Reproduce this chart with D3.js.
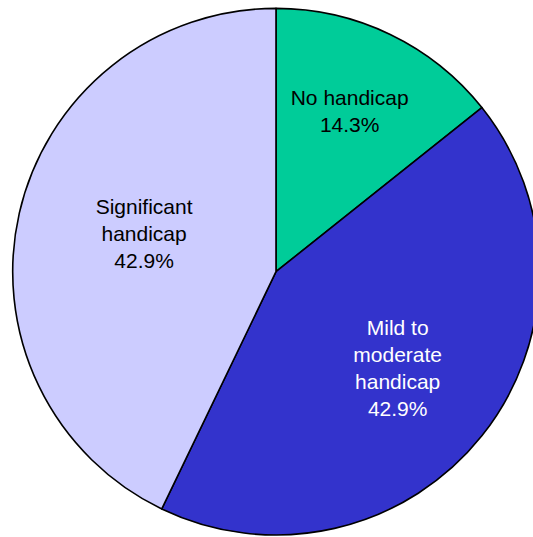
<!DOCTYPE html>
<html>
<head>
<meta charset="utf-8">
<script src="https://cdn.jsdelivr.net/npm/d3@7/dist/d3.min.js"></script>
<style>
  html, body { margin: 0; padding: 0; background: #fff; }
  svg { display: block; }
  text { font-family: "Liberation Sans", Arial, sans-serif; font-size: 21px; }
</style>
</head>
<body>
<svg id="chart" width="533" height="537"></svg>
<script>
// Handicap distribution (percent of patients)
const categories = ["No handicap", "Mild to moderate handicap", "Significant handicap"];
const labelLines = [["No handicap"], ["Mild to", "moderate", "handicap"], ["Significant", "handicap"]];
const values = [14.3, 42.9, 42.9];
const colors = ["#00CC99", "#3333CC", "#CCCCFF"];
const textColors = ["#000", "#fff", "#000"];
// where each label block sits: share of the slice's sweep, share of the radius
const labelAngle = [0.48, 0.50, 0.52];
const labelRadius = [0.670, 0.591, 0.521];

const width = 533, height = 537;
const cx = 276, cy = 271.7, radius = 263.3;
const lineHeight = 27;

const svg = d3.select("#chart");
const g = svg.append("g").attr("transform", `translate(${cx},${cy})`);

const pie = d3.pie().sort(null).value(d => d.value);
const arcs = pie(categories.map((c, i) => ({ name: c, value: values[i], i })));
const arc = d3.arc().innerRadius(0).outerRadius(radius);

g.selectAll("path.slice")
  .data(arcs)
  .join("path")
  .attr("class", "slice")
  .attr("d", arc)
  .attr("fill", d => colors[d.data.i])
  .attr("stroke", "#000")
  .attr("stroke-width", 1.6)
  .attr("stroke-linejoin", "round");

g.selectAll("text.label")
  .data(arcs)
  .join("text")
  .attr("class", "label")
  .attr("text-anchor", "middle")
  .attr("fill", d => textColors[d.data.i])
  .each(function (d) {
    const i = d.data.i;
    const a = d.startAngle + (d.endAngle - d.startAngle) * labelAngle[i];
    const [x, y] = d3.pointRadial(a, radius * labelRadius[i]);
    const lines = labelLines[i].concat([d3.format(".1f")(d.data.value) + "%"]);
    const top = y - (lines.length - 1) * lineHeight / 2 + 7;
    d3.select(this).selectAll("tspan")
      .data(lines)
      .join("tspan")
      .attr("x", x)
      .attr("y", (_, k) => top + k * lineHeight)
      .text(t => t);
  });
</script>
</body>
</html>
